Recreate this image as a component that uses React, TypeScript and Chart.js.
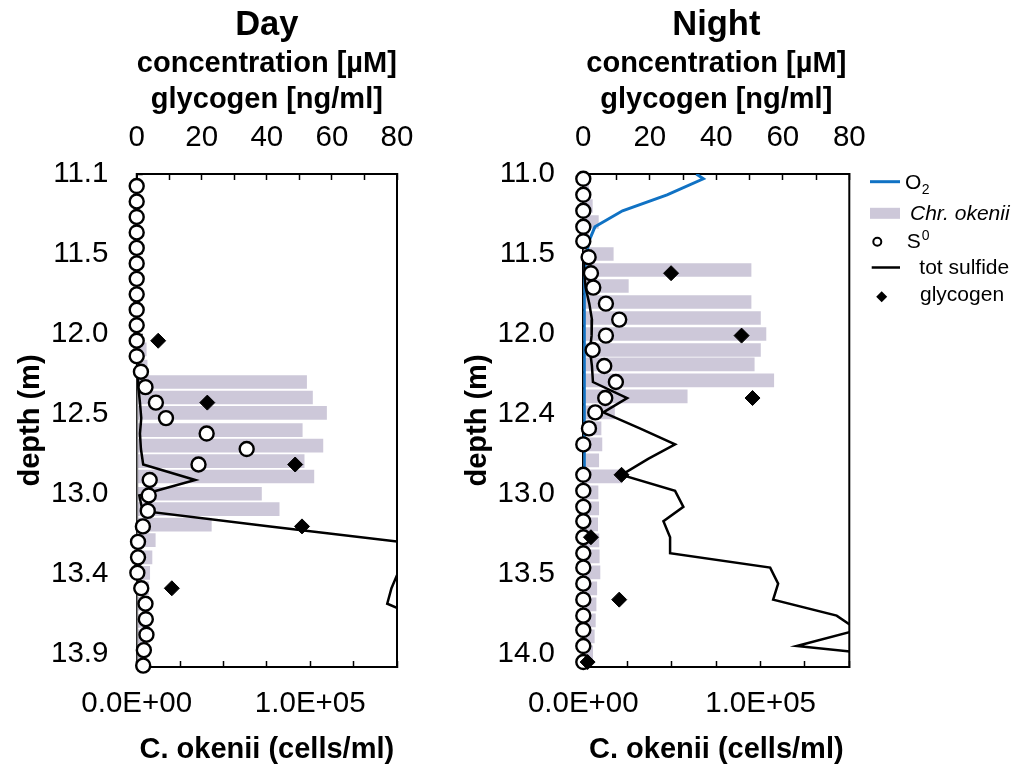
import React, { useEffect, useRef } from 'react';
import { Chart, registerables } from 'chart.js';

Chart.register(...registerables);

const FONT = "'Liberation Sans', Arial, Helvetica, sans-serif";

// ---------------- Day panel data ----------------
const dayS0Depth = [11.17, 11.26, 11.35, 11.44, 11.53, 11.62, 11.71, 11.80, 11.89, 11.98, 12.07, 12.16, 12.25, 12.34, 12.43, 12.52, 12.61, 12.70, 12.79, 12.88, 12.97, 13.06, 13.15, 13.24, 13.33, 13.42, 13.51, 13.60, 13.69, 13.78, 13.87, 13.96];
const dayS0 = [0, 0, 0, 0, 0, 0, 0, 0, 0, 0, 0, 0, 1.3, 2.7, 5.9, 9.0, 21.5, 33.8, 19.0, 4.0, 3.7, 3.4, 1.9, 0.4, 0.4, 0.2, 1.4, 2.7, 2.8, 3.0, 2.2, 2.0];
const daySulfideDepth = [12.25, 12.34, 12.43, 12.52, 12.61, 12.70, 12.79, 12.88, 12.97, 13.06, 13.15, 13.24, 13.33, 13.42, 13.51, 13.60, 13.69, 13.78, 13.87, 13.96];
const daySulfide = [0.3, 0.5, 1.0, 1.4, 1.0, 1.3, 2.0, 18.0, 0.8, 1.8, 41, 81, 130, 80.3, 78.3, 77, 88, 95, 100, 105];
const dayO2Depth = [12.25, 12.34, 12.43, 12.52, 12.61, 12.70, 12.79, 12.88, 12.97, 13.06, 13.15, 13.24, 13.33, 13.42, 13.51, 13.60, 13.69, 13.78, 13.87, 13.96];
const dayO2 = [0, 0, 0, 0, 0, 0, 0, 0, 0, 0, 0, 0, 0, 0, 0, 0, 0, 0, 0, 0];
const dayGlycogenDepth = [12.07, 12.43, 12.79, 13.15, 13.51];
const dayGlycogen = [6.6, 21.7, 48.7, 50.8, 10.8];
const dayCellDepth = [12.12, 12.22, 12.31, 12.40, 12.49, 12.59, 12.68, 12.77, 12.86, 12.96, 13.05, 13.14, 13.23, 13.33, 13.42, 13.51, 13.60, 13.70, 13.79, 13.88];
const dayCells = [5500, 6000, 97900, 101300, 109400, 95400, 107300, 96500, 102100, 71900, 82100, 43000, 10700, 8800, 7500, 6800, 5500, 5000, 4500, 4000];
const dayDepthTicks = [11.1, 11.565, 12.031, 12.496, 12.962, 13.427, 13.892];
const dayDepthTickLabels = ['11.1', '11.5', '12.0', '12.5', '13.0', '13.4', '13.9'];

// ---------------- Night panel data ----------------
const nightS0Depth = [11.03, 11.13, 11.23, 11.33, 11.42, 11.52, 11.62, 11.71, 11.81, 11.91, 12.01, 12.10, 12.20, 12.30, 12.40, 12.49, 12.59, 12.69, 12.88, 12.98, 13.08, 13.17, 13.27, 13.37, 13.46, 13.56, 13.66, 13.76, 13.85, 13.95, 14.05];
const nightS0 = [0, 0, 0, 0, 0, 1.6, 2.3, 3.0, 6.8, 10.8, 6.8, 2.8, 6.3, 9.8, 6.6, 3.6, 1.7, 0, 0, 0, 0, 0, 0, 0, 0, 0, 0, 0, 0, 0, 0];
const nightSulfideDepth = [11.52, 11.62, 11.71, 11.81, 11.91, 12.01, 12.10, 12.20, 12.30, 12.40, 12.49, 12.59, 12.69, 12.78, 12.88, 12.98, 13.08, 13.17, 13.27, 13.37, 13.46, 13.56, 13.66, 13.76, 13.85, 13.95, 14.05];
const nightSulfide = [0, 0.3, 0.7, 1.8, 2.6, 2.5, 2.0, 2.6, 2.9, 13.2, 6.0, 17.0, 27.6, 19.5, 11.5, 27.6, 30.1, 24.1, 26.1, 26.1, 56.2, 58.6, 57.1, 76.2, 82.5, 64.2, 111];
const nightO2Depth = [11.00, 11.03, 11.13, 11.23, 11.33, 11.42, 11.52, 11.62, 11.71, 11.81, 11.91, 12.01, 12.10, 12.20, 12.30, 12.40, 12.49, 12.59, 12.69, 12.78, 12.88];
const nightO2 = [34.0, 36.1, 25.2, 11.8, 3.5, 1.7, 0.8, 0.3, 0.3, 0.3, 0.3, 0.3, 0.3, 0.3, 0.3, 0.3, 0.3, 0.3, 0.3, 0.3, 0.3];
const nightGlycogenDepth = [11.62, 12.01, 12.40, 12.88, 13.27, 13.66, 14.05];
const nightGlycogen = [26.4, 47.6, 50.9, 11.5, 2.3, 10.8, 1.3];
const nightCellDepth = [11.10, 11.20, 11.30, 11.40, 11.50, 11.60, 11.70, 11.80, 11.90, 12.00, 12.10, 12.19, 12.29, 12.39, 12.49, 12.59, 12.69, 12.79, 12.89, 12.99, 13.09, 13.19, 13.29, 13.39, 13.49, 13.59, 13.69, 13.79, 13.89, 13.99];
const nightCells = [3000, 5100, 8500, 3000, 16900, 94600, 25400, 94600, 99900, 103000, 99900, 96400, 107400, 58600, 17600, 10000, 10500, 8700, 21800, 8300, 8700, 8100, 8800, 9000, 9400, 7600, 7200, 6800, 6200, 5300];
const nightDepthTicks = [11.0, 11.5, 12.0, 12.5, 13.0, 13.5, 14.0];
const nightDepthTickLabels = ['11.0', '11.5', '12.0', '12.4', '13.0', '13.5', '14.0'];

// ---------------- shared axis labels ----------------
const concTickValues = [0, 20, 40, 60, 80];
const concTickLabels = ['0', '20', '40', '60', '80'];
const cellTickValues = [0, 100000];
const cellTickLabels = ['0.0E+00', '1.0E+05'];
const legendLabels = ['O', 'Chr. okenii', 'S', 'tot sulfide', 'glycogen'];
const legendScripts = ['2', '', '0', '', ''];

const BAR_COLOR = 'rgb(205,200,217)';
const O2_COLOR = 'rgb(16,114,196)';

const pts = (xs: number[], ys: number[]) => xs.map((x, i) => ({ x, y: ys[i] }));

const framePlugin = {
  id: 'rightFrame',
  beforeDatasetsDraw(chart: any) {
    const { ctx, chartArea: a } = chart;
    ctx.save();
    ctx.strokeStyle = '#000';
    ctx.lineWidth = 2;
    ctx.beginPath();
    ctx.moveTo(a.right, a.top - 1);
    ctx.lineTo(a.right, a.bottom + 1);
    ctx.stroke();
    ctx.restore();
  },
};

const legendPlugin = {
  id: 'sideLegend',
  afterDraw(chart: any) {
    const { ctx, chartArea } = chart;
    const x0 = chartArea.right + 20.7;
    const t = chartArea.top;
    const rows = [7.7, 39.3, 67.7, 93.5, 122.7].map((r) => t + r);
    const font = (size: number, style = '') => `${style} ${size}px ${FONT}`.trim();
    ctx.save();
    ctx.textBaseline = 'middle';
    ctx.textAlign = 'left';
    ctx.fillStyle = '#000';
    // O2
    ctx.strokeStyle = O2_COLOR;
    ctx.lineWidth = 3;
    ctx.beginPath();
    ctx.moveTo(x0, rows[0]);
    ctx.lineTo(x0 + 30, rows[0]);
    ctx.stroke();
    ctx.font = font(21);
    ctx.fillText(legendLabels[0], x0 + 35, rows[0] + 1.5);
    let w = ctx.measureText(legendLabels[0]).width;
    ctx.font = font(14);
    ctx.fillText(legendScripts[0], x0 + 35 + w + 0.5, rows[0] + 8);
    // Chr. okenii
    ctx.fillStyle = BAR_COLOR;
    ctx.fillRect(x0, rows[1] - 5.5, 30, 11);
    ctx.fillStyle = '#000';
    ctx.font = font(21, 'italic');
    ctx.fillText(legendLabels[1], x0 + 40, rows[1] + 1);
    // S0
    ctx.beginPath();
    ctx.arc(x0 + 7.3, rows[2], 4, 0, Math.PI * 2);
    ctx.fillStyle = '#fff';
    ctx.fill();
    ctx.lineWidth = 2;
    ctx.strokeStyle = '#000';
    ctx.stroke();
    ctx.fillStyle = '#000';
    ctx.font = font(21);
    ctx.fillText(legendLabels[2], x0 + 36.7, rows[2] + 1);
    w = ctx.measureText(legendLabels[2]).width;
    ctx.font = font(14);
    ctx.fillText(legendScripts[2], x0 + 36.7 + w + 1, rows[2] - 6);
    // sulfide
    ctx.strokeStyle = '#000';
    ctx.lineWidth = 2.5;
    ctx.beginPath();
    ctx.moveTo(x0 + 1.7, rows[3]);
    ctx.lineTo(x0 + 30, rows[3]);
    ctx.stroke();
    ctx.font = font(21);
    ctx.fillText(legendLabels[3], x0 + 49.3, rows[3] + 1);
    // glycogen
    const cx = x0 + 11.7;
    const cy = rows[4];
    ctx.beginPath();
    ctx.moveTo(cx, cy - 5.5);
    ctx.lineTo(cx + 5.5, cy);
    ctx.lineTo(cx, cy + 5.5);
    ctx.lineTo(cx - 5.5, cy);
    ctx.closePath();
    ctx.fill();
    ctx.fillText(legendLabels[4], x0 + 50, rows[4] - 1);
    ctx.restore();
  },
};

type PanelSpec = {
  title: string;
  depthMin: number;
  depthMax: number;
  depthTicks: number[];
  depthTickLabels: string[];
  yAxisWidth: number;
  yTitlePad: number;
  rightPad: number;
  s0: { x: number; y: number }[];
  sulfide: { x: number; y: number }[];
  o2: { x: number; y: number }[];
  o2Color: string;
  glycogen: { x: number; y: number }[];
  cells: { x: number; y: number }[];
  legend: boolean;
};

const tickFont = { family: FONT, size: 29.5 };
const boldFont = { family: FONT, size: 29, weight: 'bold' as const };

function makeConfig(p: PanelSpec): any {
  const gridOpts = {
    display: true,
    drawOnChartArea: false,
    drawTicks: true,
    tickLength: -6,
    tickColor: '#000',
    tickWidth: 1.5,
    color: '#000',
    offset: false,
  };
  const border = { display: true, color: '#000', width: 2 };
  return {
    type: 'line',
    data: {
      datasets: [
        {
          type: 'bar',
          label: 'Chr. okenii',
          indexAxis: 'y',
          xAxisID: 'xb',
          yAxisID: 'y',
          data: p.cells,
          backgroundColor: BAR_COLOR,
          borderWidth: 0,
          barThickness: 13,
          order: 5,
        },
        {
          type: 'line',
          label: 'O2',
          indexAxis: 'y',
          xAxisID: 'xt',
          yAxisID: 'y',
          data: p.o2,
          borderColor: p.o2Color,
          borderWidth: 3,
          pointRadius: 0,
          fill: false,
          order: 4,
        },
        {
          type: 'line',
          label: 'tot sulfide',
          indexAxis: 'y',
          xAxisID: 'xt',
          yAxisID: 'y',
          data: p.sulfide,
          borderColor: '#000',
          borderWidth: 2.5,
          pointRadius: 0,
          fill: false,
          order: 3,
        },
        {
          type: 'line',
          label: 'S0',
          indexAxis: 'y',
          xAxisID: 'xt',
          yAxisID: 'y',
          data: p.s0,
          showLine: false,
          pointStyle: 'circle',
          pointRadius: 7,
          pointBackgroundColor: '#fff',
          pointBorderColor: '#000',
          pointBorderWidth: 2.4,
          clip: false,
          order: 2,
        },
        {
          type: 'line',
          label: 'glycogen',
          indexAxis: 'y',
          xAxisID: 'xt',
          yAxisID: 'y',
          data: p.glycogen,
          showLine: false,
          pointStyle: 'rectRot',
          pointRadius: 7.5,
          pointBackgroundColor: '#000',
          pointBorderColor: '#000',
          pointBorderWidth: 1,
          clip: false,
          order: 1,
        },
      ],
    },
    options: {
      animation: false,
      responsive: false,
      devicePixelRatio: 1,
      indexAxis: 'y',
      events: [],
      layout: { padding: { left: 0, right: p.rightPad, top: 0, bottom: 0 } },
      plugins: {
        legend: { display: false },
        tooltip: { enabled: false },
        title: {
          display: true,
          text: p.title,
          color: '#000',
          fullSize: false,
          font: { family: FONT, size: 34.5, weight: 'bold', lineHeight: 1.2 },
          padding: { top: 4.3, bottom: 0 },
        },
      },
      scales: {
        xt: {
          type: 'linear',
          axis: 'x',
          position: 'top',
          min: 0,
          max: 80,
          ticks: {
            stepSize: 10,
            autoSkip: false,
            maxRotation: 0,
            padding: 24,
            color: '#000',
            font: tickFont,
            callback: (v: number) => {
              const i = concTickValues.indexOf(v);
              return i >= 0 ? concTickLabels[i] : '';
            },
          },
          grid: gridOpts,
          border,
          title: {
            display: true,
            text: ['concentration [µM]', 'glycogen [ng/ml]'],
            color: '#000',
            font: { ...boldFont, lineHeight: 1.21 },
            padding: { top: 1.2, bottom: 0 },
          },
          afterFit: (s: any) => {
            s.height = 128.3;
          },
        },
        xb: {
          type: 'linear',
          axis: 'x',
          position: 'bottom',
          min: 0,
          max: 150000,
          ticks: {
            stepSize: 25000,
            autoSkip: false,
            maxRotation: 0,
            padding: 25.5,
            color: '#000',
            font: tickFont,
            callback: (v: number) => {
              const i = cellTickValues.indexOf(v);
              return i >= 0 ? cellTickLabels[i] : '';
            },
          },
          grid: gridOpts,
          border,
          title: {
            display: true,
            text: 'C. okenii (cells/ml)',
            color: '#000',
            font: { ...boldFont, lineHeight: 1.2 },
            padding: { top: 0, bottom: 0 },
          },
          afterFit: (s: any) => {
            s.height = 100;
          },
        },
        y: {
          type: 'linear',
          axis: 'y',
          position: 'left',
          reverse: true,
          offset: false,
          min: p.depthMin,
          max: p.depthMax,
          afterBuildTicks: (s: any) => {
            s.ticks = p.depthTicks.map((v) => ({ value: v }));
          },
          ticks: {
            autoSkip: false,
            padding: 34.3,
            color: '#000',
            font: tickFont,
            callback: (_v: number, i: number) => p.depthTickLabels[i],
          },
          grid: gridOpts,
          border,
          title: {
            display: true,
            text: 'depth (m)',
            color: '#000',
            font: { ...boldFont, lineHeight: 1.2 },
            padding: { top: p.yTitlePad, bottom: 0 },
          },
          afterFit: (s: any) => {
            s.width = p.yAxisWidth;
          },
        },
      },
    },
    plugins: p.legend ? [framePlugin, legendPlugin] : [framePlugin],
  };
}

const daySpec: PanelSpec = {
  title: 'Day',
  depthMin: 11.1,
  depthMax: 13.968,
  depthTicks: dayDepthTicks,
  depthTickLabels: dayDepthTickLabels,
  yAxisWidth: 136.7,
  yTitlePad: 13.4,
  rightPad: 73,
  s0: pts(dayS0, dayS0Depth),
  sulfide: pts(daySulfide, daySulfideDepth),
  o2: pts(dayO2, dayO2Depth),
  o2Color: 'rgb(128,128,128)',
  glycogen: pts(dayGlycogen, dayGlycogenDepth),
  cells: pts(dayCells, dayCellDepth),
  legend: false,
};

const nightSpec: PanelSpec = {
  title: 'Night',
  depthMin: 11.0,
  depthMax: 14.081,
  depthTicks: nightDepthTicks,
  depthTickLabels: nightDepthTickLabels,
  yAxisWidth: 128.3,
  yTitlePad: 5.6,
  rightPad: 179.7,
  s0: pts(nightS0, nightS0Depth),
  sulfide: pts(nightSulfide, nightSulfideDepth),
  o2: pts(nightO2, nightO2Depth),
  o2Color: O2_COLOR,
  glycogen: pts(nightGlycogen, nightGlycogenDepth),
  cells: pts(nightCells, nightCellDepth),
  legend: true,
};

function Panel({ spec, left, width }: { spec: PanelSpec; left: number; width: number }) {
  const ref = useRef<HTMLCanvasElement>(null);
  useEffect(() => {
    const chart = new Chart(ref.current as HTMLCanvasElement, makeConfig(spec));
    return () => chart.destroy();
  }, [spec]);
  return (
    <canvas
      ref={ref}
      width={width}
      height={767}
      style={{ position: 'absolute', left, top: 0, width, height: 767 }}
    />
  );
}

export default function App() {
  return (
    <div
      style={{
        position: 'absolute',
        left: 0,
        top: 0,
        width: 1029,
        height: 767,
        background: '#fff',
        overflow: 'hidden',
      }}
    >
      <Panel spec={daySpec} left={0} width={470} />
      <Panel spec={nightSpec} left={455} width={574} />
    </div>
  );
}
